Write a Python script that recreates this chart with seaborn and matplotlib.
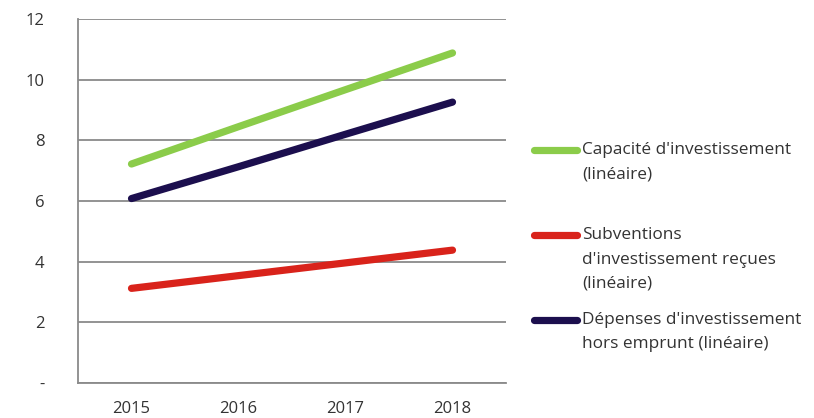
import matplotlib
matplotlib.use("Agg")
import matplotlib.pyplot as plt
from matplotlib.lines import Line2D
import pandas as pd
import seaborn as sns

years = [2015, 2016, 2017, 2018]
capacite = [7.22, 8.45, 9.67, 10.88]
subventions = [3.12, 3.54, 3.96, 4.38]
depenses = [6.08, 7.13, 8.20, 9.26]

series_names = [
    "Capacité d'investissement\n(linéaire)",
    "Subventions\nd'investissement reçues\n(linéaire)",
    "Dépenses d'investissement\nhors emprunt (linéaire)",
]
colors = ["#8bcc4a", "#d9231b", "#1c0f4e"]
y_ticks = [0, 2, 4, 6, 8, 10, 12]
y_labels = ["-", "2", "4", "6", "8", "10", "12"]

df = pd.DataFrame({
    "Année": years * 3,
    "Valeur": capacite + subventions + depenses,
    "Série": [series_names[0]] * 4 + [series_names[1]] * 4 + [series_names[2]] * 4,
})

sns.set_style("white")
plt.rcParams["font.family"] = ["Open Sans", "DejaVu Sans"]

W, H = 814, 418
fig = plt.figure(figsize=(W / 100, H / 100), dpi=100)
ax = fig.add_axes([78 / W, 1 - 383 / H, (506 - 78) / W, (383 - 19) / H])

sns.lineplot(data=df, x="Année", y="Valeur", hue="Série", palette=colors,
             linewidth=5.2, legend=False, ax=ax)
for ln in ax.get_lines():
    ln.set_solid_capstyle("round")

grey = "#8a8a8a"
ax.set_xlim(2014.5, 2018.5)
ax.set_ylim(0, 12)
ax.set_yticks(y_ticks)
ax.set_yticklabels(y_labels)
ax.yaxis.grid(True, color=grey, linewidth=1.3)
ax.set_axisbelow(True)
ax.set_xticks([2014.5, 2015.5, 2016.5, 2017.5, 2018.5])
ax.set_xticklabels([])
ax.set_xticks(years, minor=True)
ax.set_xticklabels([str(y) for y in years], minor=True)
ax.tick_params(axis="x", which="major", length=4, width=1.3, color=grey, direction="out")
ax.tick_params(axis="x", which="minor", length=0, pad=13, labelsize=12, labelcolor="#333333")
ax.tick_params(axis="y", length=5, width=1.3, color=grey, pad=19, labelsize=12,
               labelcolor="#333333")
for s in ["top", "right"]:
    ax.spines[s].set_visible(False)
for s in ["left", "bottom"]:
    ax.spines[s].set_color(grey)
    ax.spines[s].set_linewidth(1.3)
ax.set_xlabel("")
ax.set_ylabel("")

# legend drawn by hand so the handle sits on the first text line
legend_y = [150, 235, 320]
line_gap = 24.5
for name, col, yy in zip(series_names, colors, legend_y):
    fig.add_artist(Line2D([534 / W, 577 / W], [1 - yy / H, 1 - yy / H], color=col,
                          linewidth=5.2, solid_capstyle="round", transform=fig.transFigure))
    for i, part in enumerate(name.split("\n")):
        fig.text(582 / W, 1 - (yy + i * line_gap) / H, part, fontsize=12.4,
                 color="#333333", va="center", ha="left")

fig.savefig("out.png", dpi=100)
